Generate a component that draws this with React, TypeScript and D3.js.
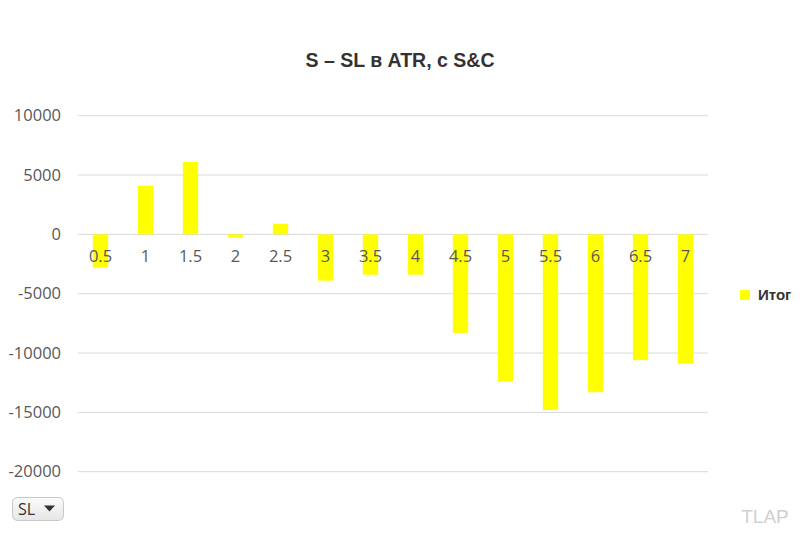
import React from 'react';
import * as d3 from 'd3';

// S – SL в ATR, с S&C — итог по каждому значению SL
const categories = ['0.5', '1', '1.5', '2', '2.5', '3', '3.5', '4', '4.5', '5', '5.5', '6', '6.5', '7'];
const totals = [-2800, 4100, 6100, -250, 900, -3900, -3400, -3400, -8300, -12400, -14800, -13300, -10600, -10900];
const yTicks = [10000, 5000, 0, -5000, -10000, -15000, -20000];
const seriesName = 'Итог';

const W = 805;
const H = 533;
const plot = { left: 78, right: 708, top: 115.7, bottom: 471.7 };

export default function App() {
  const x = d3.scaleBand<string>()
    .domain(categories)
    .range([plot.left, plot.right])
    .paddingInner(0.66)
    .paddingOuter(0.33);

  const y = d3.scaleLinear()
    .domain([-20000, 10000])
    .range([plot.bottom, plot.top]);

  const font = '"Open Sans", sans-serif';
  const sans = '"Liberation Sans", Arial, sans-serif';

  return (
    <svg width={W} height={H} style={{ position: 'absolute', left: 0, top: 0, background: '#fff' }}>
      <text x={400} y={67} textAnchor="middle" fontFamily={sans}
        fontWeight="bold" fontSize={19.5} fill="#333">
        S – SL в ATR, с S&amp;C
      </text>

      {/* grid + y labels */}
      {yTicks.map(t => (
        <g key={t}>
          <line x1={plot.left} x2={plot.right} y1={y(t)} y2={y(t)} stroke="#d9d9d9" strokeWidth={1} />
          <text x={61} y={y(t)} dy="0.35em" textAnchor="end" fontFamily={font} fontSize={16.5} fill="#595959">
            {t}
          </text>
        </g>
      ))}

      {/* bars */}
      {totals.map((v, i) => (
        <rect key={categories[i]}
          x={x(categories[i])!}
          width={x.bandwidth()}
          y={Math.min(y(v), y(0))}
          height={Math.abs(y(v) - y(0))}
          fill="#ffff00" />
      ))}

      {/* category labels sit just under the zero line */}
      {categories.map(c => (
        <text key={c} x={x(c)! + x.bandwidth() / 2} y={y(0) + 28} textAnchor="middle"
          fontFamily={font} fontSize={16.5} fill="#595959">
          {c}
        </text>
      ))}

      {/* legend */}
      <rect x={740} y={290} width={10} height={10} fill="#ffff00" />
      <text x={758} y={295} dy="0.35em" fontFamily={sans}
        fontWeight="bold" fontSize={15} fill="#333">
        {seriesName}
      </text>

      {/* SL filter button */}
      <defs>
        <linearGradient id="btn" x1="0" x2="0" y1="0" y2="1">
          <stop offset="0" stopColor="#fbfbfb" />
          <stop offset="1" stopColor="#e6e6e6" />
        </linearGradient>
      </defs>
      <rect x={12.5} y={497.5} width={51} height={23} rx={5} fill="url(#btn)" stroke="#c8c8c8" />
      <text x={18} y={509} dy="0.35em" fontFamily={font} fontSize={16} fill="#333">SL</text>
      <path d="M44,505.5 L55,505.5 L49.5,511.5 Z" fill="#333" />

      <text x={765} y={523} textAnchor="middle" fontFamily={sans}
        fontSize={19} fill="#d0d0d0">
        TLAP
      </text>
    </svg>
  );
}
